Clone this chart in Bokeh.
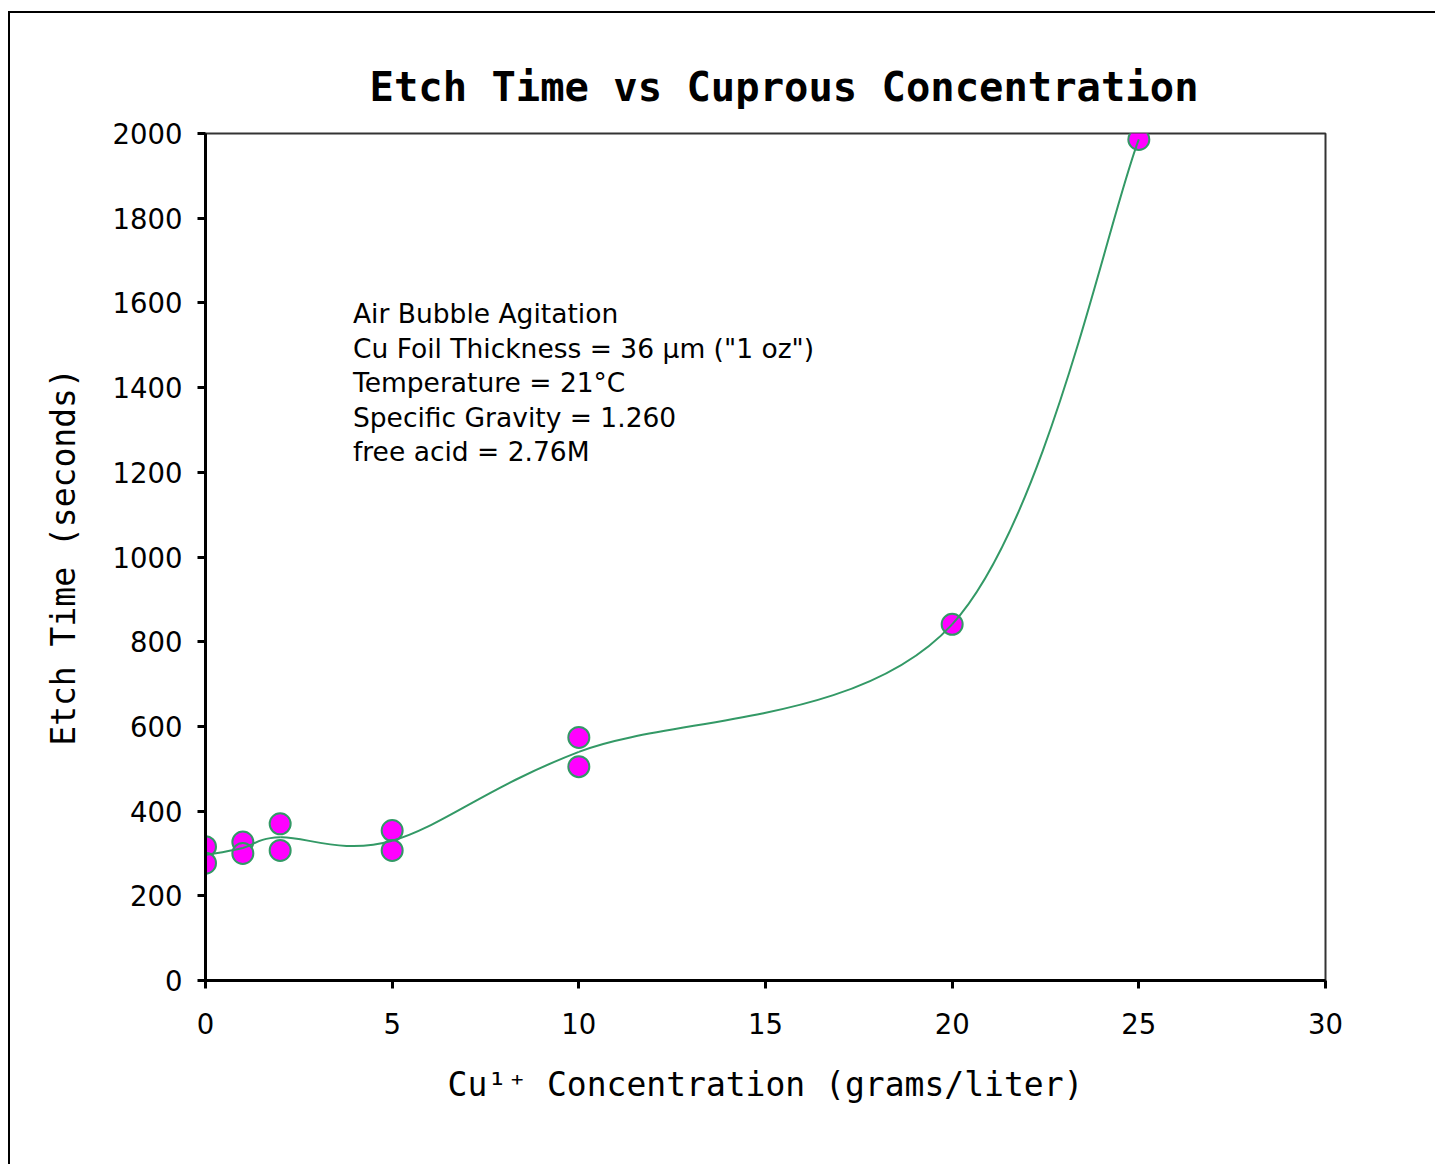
from bokeh.plotting import figure
from bokeh.models import Range1d, FixedTicker, Label
from bokeh.embed import file_html
from bokeh.resources import INLINE

# ---- data ----
conc_x = [0, 0, 1, 1, 2, 2, 5, 5, 10, 10, 20, 25]
etch_y = [316, 277, 327, 300, 370, 307, 354, 307, 574, 505, 841, 1986]

# smoothed trend line anchor points (mean etch time per concentration)
fit_x = [0, 1, 2, 5, 10, 20, 25]
fit_y = [296, 313, 338, 330, 540, 841, 1986]

x_ticks = [0, 5, 10, 15, 20, 25, 30]
y_ticks = [0, 200, 400, 600, 800, 1000, 1200, 1400, 1600, 1800, 2000]

notes = [
    "Air Bubble Agitation",
    'Cu Foil Thickness = 36 \u00b5m ("1 oz")',
    "Temperature = 21\u00b0C",
    "Specific Gravity = 1.260",
    "free acid = 2.76M",
]

title_text = "Etch Time vs Cuprous Concentration"
x_label = "Cu\u00b9\u207a Concentration (grams/liter)"
y_label = "Etch Time (seconds)"

# ---- figure ----
p = figure(width=1435, height=1164, output_backend="svg", toolbar_location=None,
           x_range=Range1d(0, 30), y_range=Range1d(0, 2000),
           min_border_left=205, min_border_right=110,
           min_border_top=133, min_border_bottom=184)
p.background_fill_color = "white"
p.border_fill_color = None
# picture frame (left/top edges) drawn behind the transparent canvas border
p.styles = {
    "background-color": "white",
    "box-shadow": "inset 8px 11px 0 0 white, inset 10px 13px 0 0 black",
}
p.grid.visible = False
p.outline_line_color = "#333333"
p.outline_line_width = 2

p.title.text = title_text
p.title.text_font = "DejaVu Sans Mono"
p.title.text_font_size = "40.5px"
p.title.text_font_style = "bold"
p.title.align = "left"
p.title.offset = 164
p.title.standoff = 46
p.title.text_color = "black"

for ax, ticks in ((p.xaxis, x_ticks), (p.yaxis, y_ticks)):
    ax.ticker = FixedTicker(ticks=ticks)
    ax.axis_line_width = 3
    ax.axis_line_color = "black"
    ax.major_tick_line_width = 3
    ax.major_tick_line_color = "black"
    ax.major_tick_in = 0
    ax.major_tick_out = 8
    ax.minor_tick_line_color = None
    ax.major_label_text_font = "DejaVu Sans"
    ax.major_label_text_font_size = "27.5px"
    ax.major_label_text_color = "black"
    ax.axis_label_text_font = "DejaVu Sans Mono"
    ax.axis_label_text_font_size = "33px"
    ax.axis_label_text_font_style = "normal"
    ax.axis_label_text_color = "black"

p.xaxis.axis_label = x_label
p.yaxis.axis_label = y_label
p.xaxis.major_label_standoff = 24
p.yaxis.major_label_standoff = 15
p.xaxis.axis_label_standoff = 28
p.yaxis.axis_label_standoff = 27

# ---- smoothed line (Catmull-Rom style cubic Bezier through the anchor points) ----
n = len(fit_x)
x0s, y0s, x1s, y1s, cx0, cy0, cx1, cy1 = [], [], [], [], [], [], [], []
for i in range(n - 1):
    xa, ya = fit_x[i], fit_y[i]
    xb, yb = fit_x[i + 1], fit_y[i + 1]
    xp, yp = (fit_x[i - 1], fit_y[i - 1]) if i > 0 else (xa, ya)
    xn, yn = (fit_x[i + 2], fit_y[i + 2]) if i + 2 < n else (xb, yb)
    x0s.append(xa); y0s.append(ya); x1s.append(xb); y1s.append(yb)
    cx0.append(xa + (xb - xp) / 6); cy0.append(ya + (yb - yp) / 6)
    cx1.append(xb - (xn - xa) / 6); cy1.append(yb - (yn - ya) / 6)

p.scatter(conc_x, etch_y, size=21, marker="circle", fill_color="#FF00FF",
          line_color="#339966", line_width=2)

p.bezier(x0=x0s, y0=y0s, x1=x1s, y1=y1s, cx0=cx0, cy0=cy0, cx1=cx1, cy1=cy1,
         line_color="#339966", line_width=2)

# ---- annotation text ----
note_x = 3.95
note_y0 = 1575
note_dy = 81.5
for k, t in enumerate(notes):
    p.add_layout(Label(x=note_x, y=note_y0 - k * note_dy, text=t,
                       text_font="DejaVu Sans", text_font_size="26.5px",
                       text_color="black", text_baseline="alphabetic"))

open("out.html", "w").write(file_html(p, INLINE))
